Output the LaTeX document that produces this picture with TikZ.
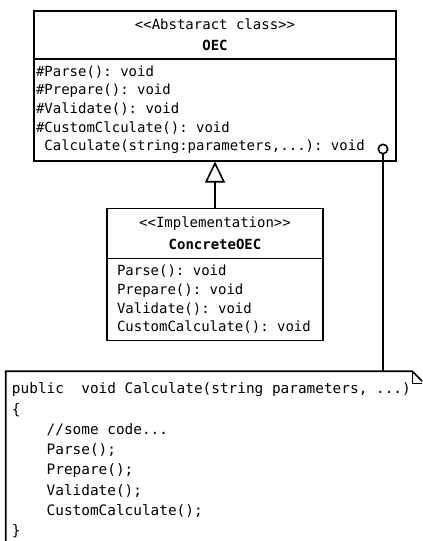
\documentclass[tikz,border=0pt]{standalone}
\usepackage{fontspec}
\setmonofont{DejaVu Sans Mono}
\usepackage{tikz}
\usetikzlibrary{positioning, arrows.meta}
\tikzstyle{classhead} = [rectangle, line width=1.2pt, draw=black, align=center, inner xsep=1.5pt, font=\ttfamily\fontsize{10.5}{16}\selectfont]
\tikzstyle{classbody} = [rectangle, line width=1.2pt, draw=black, align=left, inner xsep=1.5pt, font=\ttfamily\fontsize{10.5}{14}\selectfont]
\tikzstyle{codenote} = [rectangle, align=left, inner xsep=4.5pt, font=\ttfamily\fontsize{10.8}{15.2}\selectfont]
\tikzstyle{port} = [circle, draw=black, line width=1.2pt, minimum size=7pt, inner sep=0pt]
\tikzstyle{inherit} = [line width=1.2pt, -{Triangle[open, length=15.75pt, width=15pt]}]
\tikzstyle{link} = [line width=1.2pt]
% one monospaced cell, used for every blank
\newcommand{\gap}{\hphantom{x}}
\newcommand{\codeindent}{\gap\gap\gap\gap}

\begin{document}
\begin{tikzpicture}[x=0.75pt, y=-0.75pt]
    \path [use as bounding box, clip] (0,0) rectangle (422,541);

    \node (oec-head) [classhead, anchor=north, text width=268.5pt, minimum height=36pt] at (215,10) {<<Abstaract\gap{}class>>\\\textbf{OEC}};
    \node (oec-body) [classbody, below=-1.2pt of oec-head, text width=268.5pt, minimum height=76.5pt] {\#Parse():\gap{}void\\\#Prepare():\gap{}void\\\#Validate():\gap{}void\\\#CustomClculate():\gap{}void\\\gap{}Calculate(string:parameters,...):\gap{}void};
    \node (calc-port) [port] at (383,149) {};

    \node (concrete-head) [classhead, below=34.5pt of oec-body, text width=159pt, minimum height=37.5pt] {<<Implementation>>\\\textbf{ConcreteOEC}};
    \node (concrete-body) [classbody, below=-1.2pt of concrete-head, inner xsep=7.5pt, text width=147pt, minimum height=61.5pt] {Parse():\gap{}void\\Prepare():\gap{}void\\Validate():\gap{}void\\CustomCalculate():\gap{}void};

    \node (calc-note) [codenote, below=22.5pt of concrete-body, text width=304.5pt, minimum height=133.5pt] {public\gap\gap{}void\gap{}Calculate(string\gap{}parameters,\gap{}...)\\\{\\\codeindent//some\gap{}code...\\\codeindent{}Parse();\\\codeindent{}Prepare();\\\codeindent{}Validate();\\\codeindent{}CustomCalculate();\\\}};

    \draw [inherit] (concrete-head) -- (oec-body);
    \draw [link] (calc-port) -- (calc-port |- calc-note.north);
    \draw [link] (calc-note.south west) -- (calc-note.north west) -- ([xshift=-9pt]calc-note.north east) -- ([yshift=-9pt]calc-note.north east) -- (calc-note.south east);
    \draw [thin] ([xshift=-9pt]calc-note.north east) |- ([yshift=-9pt]calc-note.north east);
\end{tikzpicture}
\end{document}
